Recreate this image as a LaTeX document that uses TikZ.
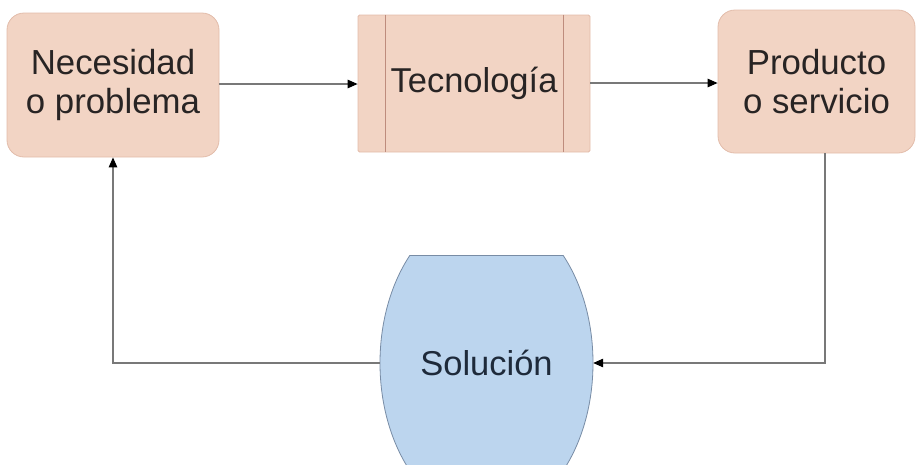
\documentclass[tikz,border=0pt]{standalone}
\usepackage{fontspec}
\setmainfont{Liberation Sans}
\usetikzlibrary{arrows.meta}
\definecolor{peach}{RGB}{242,212,196}
\definecolor{peachline}{RGB}{226,188,170}
\definecolor{peachdark}{RGB}{190,140,125}
\definecolor{solfill}{RGB}{188,213,238}
\definecolor{solline}{RGB}{120,140,165}
\definecolor{txt}{RGB}{40,36,36}
\definecolor{soltxt}{RGB}{30,42,58}
\definecolor{conn}{RGB}{120,120,120}
\tikzset{
  procbox/.style={draw=peachline, fill=peach, line width=0.8pt, rounded corners=17pt,
    align=center, text=txt, font=\fontsize{34.8}{39}\selectfont, inner sep=0pt},
  techbox/.style={draw=peachline, fill=peach, line width=0.8pt, rounded corners=1.5pt,
    align=center, text=txt, font=\fontsize{34.5}{39}\selectfont, inner sep=0pt},
  conn/.style={draw=conn, line width=1.1pt, -{Triangle[length=10pt,width=8.5pt,fill=black,color=black]}},
}
\begin{document}
\begin{tikzpicture}[x=1pt,y=-1pt]
\useasboundingbox (0,0) rectangle (919,464);
\node[procbox, minimum width=212pt, minimum height=144pt] (n1) at (113,85) {Necesidad\\o problema};
\node[techbox, minimum width=232pt, minimum height=137pt] (n2) at (474,83.5) {Tecnología};
\draw[peachdark, line width=0.8pt] ([xshift=28pt]n2.north west) -- ([xshift=28pt]n2.south west);
\draw[peachdark, line width=0.8pt] ([xshift=-27pt]n2.north east) -- ([xshift=-27pt]n2.south east);
\node[procbox, minimum width=197pt, minimum height=143pt] (n3) at (816.5,81.5) {Producto\\o servicio};
% Solucion barrel
\begin{scope}
\clip (370,255) rectangle (600,471);
\fill[solfill] (486.5,363) ellipse [x radius=106.5pt, y radius=155pt];
\draw[solline, line width=0.8pt] (486.5,363) ellipse [x radius=106.5pt, y radius=155pt];
\end{scope}
\draw[solline, line width=0.8pt] (410,255) -- (563,255);
\node[minimum width=213pt, minimum height=216pt, inner sep=0pt, text=soltxt,
  font=\fontsize{34.5}{39}\selectfont] (sol) at (486.5,363) {Solución};
\draw[conn] (n1.east |- 0,84) -- (n2.west |- 0,84);
\draw[conn] (n2.east |- 0,83) -- (n3.west |- 0,83);
\draw[conn] ([xshift=8.5pt]n3.south) |- (sol.east);
\draw[conn] (sol.west) -| (n1.south);
\end{tikzpicture}
\end{document}
